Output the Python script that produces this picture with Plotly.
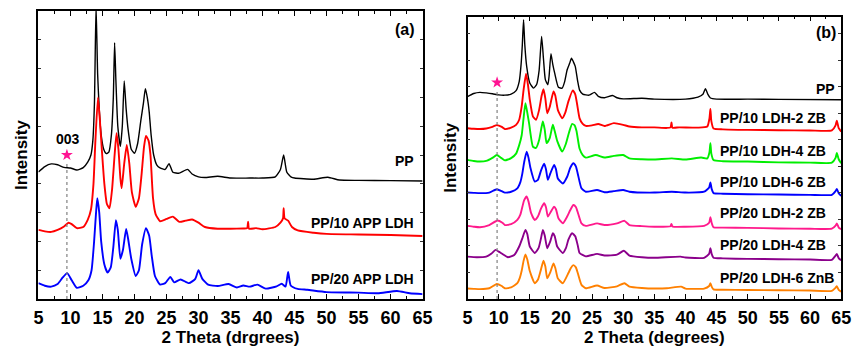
import plotly.graph_objects as go

# ---------------- Panel (a) data: 2-theta (deg), intensity (a.u., offset) ----------------
PP_A = [(5, 44.1), (6, 46), (7, 46.9), (8, 46.6), (9, 45.7), (10, 45.5), (11, 44.8), (12, 45.6),
        (12.7, 47.5), (13.2, 50), (13.5, 55), (13.75, 68), (14.0, 102), (14.25, 78), (14.5, 66),
        (14.8, 57), (15.2, 52), (15.6, 50.5), (16.0, 51), (16.4, 57), (16.7, 70), (16.9, 89),
        (17.1, 76), (17.4, 60), (17.8, 53), (18.1, 60), (18.4, 75.7), (18.7, 66), (19.0, 59),
        (19.5, 52), (20.0, 50.6), (20.5, 54), (21.0, 62), (21.4, 68), (21.7, 73), (22.0, 70),
        (22.3, 65), (22.6, 57), (23.0, 50), (23.5, 46.5), (24.0, 45.5), (24.8, 45), (25.4, 47),
        (26.0, 44), (27.0, 43.7), (28.3, 45), (29.0, 43.4), (30.0, 42.4), (31.0, 42.2),
        (33.0, 42.6), (35.0, 42), (38.0, 42), (40.0, 42), (42.0, 42.4), (42.8, 45), (43.3, 50),
        (43.8, 44), (44.5, 42.3), (45, 42), (48, 41.6), (50.2, 42.3), (52, 41.3), (55, 41.2),
        (60, 41.1), (65, 41)]

PP10_APP_A = [(5, 24), (6, 23.5), (7, 23.3), (8, 24), (9, 25.2), (9.7, 26.5), (10.2, 26), (11, 24.6),
              (12, 25), (12.7, 27.5), (13.2, 31), (13.6, 40), (13.9, 55), (14.3, 70), (14.6, 62),
              (14.9, 52), (15.3, 40), (15.7, 33), (16.1, 31.5), (16.5, 38), (16.9, 50), (17.2, 57.6),
              (17.5, 52), (17.8, 42), (18.0, 38.5), (18.4, 47), (18.8, 53.5), (19.2, 47), (19.6, 37),
              (20.2, 32), (20.7, 35), (21.1, 43), (21.5, 53), (21.8, 56.6), (22.2, 55), (22.5, 50),
              (22.9, 35), (23.3, 29.5), (24, 27), (25, 27.8), (26, 28.6), (27, 26.8), (28, 27.2),
              (29, 27.6), (30, 26.5), (31, 25), (33, 24.4), (35, 24.4), (37, 24.5), (37.6, 24.6),
              (37.75, 26.8), (37.9, 24.4), (39, 24.6), (40, 24.2), (42, 25), (42.8, 26.5), (43.2, 28),
              (43.3, 31.5), (43.45, 28), (44, 27.2), (44.6, 25), (45.5, 23.8), (48, 23), (50, 22.6),
              (55, 22.4), (60, 22.2), (65, 21.9)]

PP20_APP_A = [(5, 5.5), (6, 4.6), (7, 4.3), (8, 5.2), (8.8, 7.5), (9.5, 9), (10.2, 6.5), (11, 3.9),
              (12, 4.6), (12.8, 6.5), (13.3, 10), (13.7, 20), (14.0, 30), (14.2, 35), (14.5, 30),
              (14.8, 20), (15.3, 12), (15.8, 9.2), (16.3, 11), (16.7, 18), (17.1, 27.4), (17.4, 24),
              (17.8, 14), (18.2, 17), (18.7, 24.3), (19.0, 21), (19.5, 14), (20.2, 8), (20.7, 10),
              (21.2, 19), (21.8, 24.6), (22.3, 22), (22.7, 15), (23.2, 8), (24, 5), (24.8, 5.5),
              (25.6, 7.7), (26.2, 5.8), (27.2, 6.8), (28.5, 5.5), (29.5, 7), (30.0, 10), (30.6, 7),
              (31.5, 5), (33, 4.5), (34.7, 5.2), (36, 4), (37, 4.7), (38, 4.3), (39.2, 5), (40.5, 3.6),
              (42.2, 4.4), (43, 5.3), (43.6, 4.3), (44.0, 9.4), (44.4, 4.7), (45.5, 3.5), (47, 3.2),
              (50, 2.4), (55, 2.2), (58, 2), (61, 2.8), (63, 2), (65, 1.7)]

# ---------------- Panel (b) data ----------------
PP_B = [(5, 71.7), (6, 72.8), (7, 73.2), (8, 73), (9, 72.7), (10, 72.3), (11, 72.2), (12, 72.6),
        (12.8, 73.8), (13.3, 77), (13.6, 83), (13.8, 90), (14.0, 98.9), (14.2, 90), (14.5, 82.4),
        (15.0, 76.5), (15.6, 74.7), (16.1, 76), (16.5, 81), (16.9, 93), (17.2, 85), (17.5, 77.7),
        (17.9, 75.9), (18.1, 79), (18.4, 86.9), (18.7, 83), (19.0, 80), (19.6, 75), (20.2, 74.7),
        (20.6, 77), (21.0, 81.2), (21.4, 83.5), (21.7, 85.3), (22.0, 84), (22.3, 82.4), (22.7, 77),
        (23.0, 74), (23.5, 72.6), (24.5, 72.2), (25.4, 73.2), (26, 71.8), (27, 71.3), (28.3, 72.1),
        (29, 71.3), (30, 70.9), (33, 71.1), (35, 70.8), (40, 70.8), (42, 71.5), (42.8, 72.5),
        (43.2, 74.5), (43.6, 72.5), (44, 71.2), (45, 70.8), (50, 70.8), (55, 70.7), (65, 70.6)]

PP10_2ZB = [(5, 60.5), (6, 60.3), (7, 60.2), (8, 60.4), (9, 61), (9.7, 61.6), (10.5, 61), (11, 60.2),
            (12, 60.7), (12.8, 61.7), (13.3, 63.5), (13.7, 68.2), (14.0, 74), (14.4, 79.8), (14.7, 76),
            (15.0, 70.6), (15.5, 64.7), (16.0, 63.5), (16.5, 67), (16.9, 72), (17.2, 74.3), (17.5, 71),
            (17.8, 65.8), (18.2, 68), (18.8, 73.5), (19.1, 72), (19.5, 67), (20.2, 64), (20.7, 66),
            (21.2, 70), (21.9, 73.9), (22.3, 72.5), (22.6, 69), (23.0, 64), (23.5, 62), (24, 61.3),
            (25, 61.5), (26, 62), (27, 61.3), (28.5, 62.3), (30, 61.7), (31, 61.1), (33, 60.8),
            (35, 60.8), (37, 60.6), (37.6, 60.8), (37.75, 62.5), (37.9, 60.7), (39, 60.8), (42, 60.7),
            (43.5, 61.1), (43.85, 64), (44.0, 67.3), (44.15, 63), (44.5, 60.4), (46, 60.1), (50, 59.9),
            (55, 59.8), (60, 59.7), (63.5, 59.7), (64.1, 61.5), (64.3, 63.2), (64.6, 60.5), (65, 59.3)]

PP10_4ZB = [(5, 49.3), (6, 48.9), (7, 48.7), (8, 48.9), (9, 50), (9.7, 51), (10.4, 50), (11, 49.1),
            (12, 49.9), (12.8, 51.5), (13.3, 54.5), (13.7, 58), (14.0, 64), (14.3, 69.4), (14.6, 66),
            (14.9, 62), (15.5, 54), (16.0, 53.5), (16.5, 56.3), (16.9, 61), (17.1, 62.9), (17.4, 60),
            (17.7, 55.2), (18.2, 57), (18.7, 61.7), (19.0, 59.5), (19.4, 56), (20.2, 52.2), (20.8, 55),
            (21.3, 59), (21.8, 62), (22.2, 61.5), (22.5, 59.5), (23.0, 53.2), (23.5, 51), (24, 50.1),
            (25.6, 51), (27, 50.1), (28.5, 50.7), (30, 51), (31, 49.8), (33, 49.5), (35, 49.4),
            (37.8, 49.8), (40, 49.4), (42.5, 50.1), (43.5, 49.8), (43.85, 52), (44.0, 55.2),
            (44.15, 51.5), (44.5, 49.2), (46, 48.8), (50, 48.7), (55, 48.4), (60, 48.3), (63.5, 48.3),
            (64.1, 50), (64.3, 51.7), (64.6, 49.5), (65, 48.1)]

PP10_6ZB = [(5, 37.7), (6, 37.6), (7, 37.5), (8.5, 37.7), (9.7, 38.9), (10.5, 38.2), (11, 37.7), (12, 38),
            (13, 39.2), (13.5, 41.5), (13.8, 44.4), (14.1, 48.5), (14.5, 52.2), (14.8, 50), (15.1, 46.5),
            (15.8, 41.6), (16.3, 42.2), (16.8, 45.5), (17.3, 47.9), (17.6, 46), (17.9, 42.2), (18.3, 44.5),
            (18.9, 47.5), (19.2, 46), (19.5, 42.7), (20.3, 40.9), (21.0, 43.3), (21.5, 46.5), (22.0, 48.1),
            (22.4, 47), (22.7, 44.4), (23.3, 39.2), (24, 38), (25.8, 38.6), (27, 37.8), (28.5, 38.2),
            (30, 38.6), (31, 38), (35, 37.7), (37.8, 38), (40, 37.7), (43, 38), (43.8, 39.5), (44.0, 41.3),
            (44.2, 39), (44.5, 37.5), (46, 37.3), (50, 37.1), (55, 37), (60, 36.9), (63.5, 36.9),
            (64.1, 38.2), (64.3, 39), (64.6, 37.5), (65, 36.5)]

PP20_2ZB = [(5, 25.9), (6, 25.6), (7, 25.4), (8.5, 26.2), (9.8, 27.8), (10.6, 27), (11, 26.2), (12, 26.5),
            (13, 28), (13.5, 30), (13.8, 32.6), (14.1, 35), (14.5, 36.3), (14.8, 34.5), (15.2, 30.5),
            (15.8, 28), (16.3, 29.2), (16.8, 32), (17.3, 33.9), (17.6, 32.5), (17.9, 29.2), (18.4, 31),
            (18.9, 32.7), (19.2, 31.8), (19.6, 28.6), (20.3, 26.8), (21.0, 29.2), (21.5, 31.5), (22.0, 33.3),
            (22.4, 32.6), (22.8, 30), (23.3, 26.8), (24, 25.9), (25.8, 26.8), (27, 26.2), (29, 26.8),
            (30.2, 27.7), (31, 26.2), (33, 25.8), (35, 25.6), (37.6, 25.8), (37.75, 26.6), (37.9, 25.7),
            (40, 25.6), (43, 25.9), (43.8, 27), (44.0, 29), (44.2, 27), (44.5, 25.4), (46, 25.3),
            (50, 25.2), (55, 25), (60, 24.9), (63.5, 24.9), (64.1, 26), (64.3, 26.8), (64.6, 25.3),
            (65, 24.7)]

PP20_4ZB = [(5, 15), (6.5, 14.8), (8, 15), (8.8, 16), (9.5, 17.4), (10, 16.8), (10.5, 16.1), (11.5, 14.8),
            (12.5, 15.6), (13.3, 18.6), (13.8, 21.5), (14.3, 24.5), (14.6, 23), (15.0, 18.6), (15.8, 16.3),
            (16.4, 18), (16.8, 21.5), (17.1, 24.5), (17.4, 22.5), (17.8, 18), (18.3, 20.5), (18.7, 23.3),
            (19.0, 22.3), (19.4, 18.6), (20.3, 16.3), (20.8, 18), (21.2, 21), (21.8, 23.3), (22.3, 22.2),
            (22.7, 19), (23.0, 16.3), (24, 15.1), (25.8, 16), (27, 15.4), (29, 15.7), (30.1, 17.1),
            (31, 15.4), (33, 14.8), (35, 14.6), (39.2, 15), (40, 14.7), (43, 14.6), (43.8, 16), (44.0, 18),
            (44.2, 16), (44.5, 14.6), (46, 14.4), (50, 14.2), (55, 14.1), (60, 14), (63.5, 13.9),
            (64.1, 15.4), (64.3, 16), (64.6, 14.5), (65, 13.7)]

PP20_6ZNB = [(5, 3.7), (6, 3.6), (7, 3.5), (8.5, 3.8), (9.7, 5.3), (10.5, 4.6), (11, 3.8), (12, 4.1),
             (13, 5.6), (13.4, 7.5), (13.7, 10), (14.0, 13.5), (14.3, 15.8), (14.6, 14), (15.0, 9.9),
             (15.8, 5.6), (16.3, 6.8), (16.8, 10.5), (17.2, 13.6), (17.5, 11.5), (17.8, 7.3), (18.3, 9.5),
             (18.8, 12.6), (19.1, 11), (19.5, 7.3), (20.3, 5.6), (21.2, 9.2), (21.6, 11), (22.0, 12),
             (22.4, 11.2), (22.7, 9.2), (23.3, 5), (24, 3.8), (25.8, 4.8), (27, 3.9), (29, 4.5),
             (30.2, 5.6), (31, 4.4), (33, 3.9), (35, 3.7), (37, 3.8), (39.3, 4.4), (40, 3.7), (43, 3.7),
             (43.8, 4.6), (44.0, 5.6), (44.2, 4.4), (44.5, 3.4), (46, 3.3), (50, 3.2), (55, 3.1),
             (60, 3), (63.5, 2.9), (64.1, 4), (64.3, 4.5), (64.6, 3.2), (65, 2.6)]

# series metadata: (data, name, colour, label y)
SERIES_A = [
    (PP_A, "PP", "#000000", 48),
    (PP10_APP_A, "PP/10 APP LDH", "#ff0000", 26.5),
    (PP20_APP_A, "PP/20 APP LDH", "#0000ff", 7),
]
SERIES_B = [
    (PP_B, "PP", "#000000", 74.5),
    (PP10_2ZB, "PP/10 LDH-2 ZB", "#ff0000", 64),
    (PP10_4ZB, "PP/10 LDH-4 ZB", "#00ee00", 52.5),
    (PP10_6ZB, "PP/10 LDH-6 ZB", "#0000ff", 41.5),
    (PP20_2ZB, "PP/20 LDH-2 ZB", "#ff1a8c", 30.5),
    (PP20_4ZB, "PP/20 LDH-4 ZB", "#8b008b", 19.2),
    (PP20_6ZNB, "PP/20 LDH-6 ZnB", "#ff8000", 7.5),
]

STAR_A = (9.45, 50.0)      # 003 reflection marker, panel (a)
STAR_B = (9.75, 76.7)      # panel (b)
X_TICKS = [5, 10, 15, 20, 25, 30, 35, 40, 45, 50, 55, 60, 65]

FONT = "Liberation Sans, Arial, sans-serif"

fig = go.Figure()

def add_panel(series, xa, ya, star, label_x_pp, label_x_other, align_other):
    for data, name, color, ly in series:
        xs = [p[0] for p in data]
        ys = [p[1] for p in data]
        w = 1.4 if name == "PP" else 1.9
        fig.add_trace(go.Scatter(x=xs, y=ys, mode="lines", name=name,
                                 line=dict(color=color, width=w, shape="spline", smoothing=0.5),
                                 xaxis=xa, yaxis=ya, showlegend=False, hoverinfo="skip"))
        fig.add_annotation(x=label_x_pp if name == "PP" else label_x_other, y=ly, xref=xa, yref=ya,
                           text=name, showarrow=False,
                           xanchor="right" if name == "PP" else align_other, yanchor="middle",
                           font=dict(family=FONT, size=14, color="black", weight="bold"))
    # dotted line at the 003 reflection
    fig.add_shape(type="line", x0=star[0], x1=star[0], y0=0, y1=star[1] - 2.5,
                  xref=xa, yref=ya, line=dict(color="#808080", width=1.2, dash="dot"))
    fig.add_trace(go.Scatter(x=[star[0]], y=[star[1]], mode="markers",
                             marker=dict(symbol="star", size=9, color="#ff1493", line=dict(width=0)),
                             xaxis=xa, yaxis=ya, showlegend=False, hoverinfo="skip"))

add_panel(SERIES_A, "x", "y", STAR_A, 63.9, 63.9, "right")
add_panel(SERIES_B, "x2", "y2", STAR_B, 64.4, 45.3, "left")

fig.add_annotation(x=STAR_A[0] + 0.1, y=STAR_A[1] + 5.5, xref="x", yref="y", text="003", showarrow=False,
                   font=dict(family=FONT, size=14, color="black", weight="bold"))
fig.add_annotation(x=64.2, y=93.5, xref="x", yref="y", text="(a)", showarrow=False, xanchor="right",
                   font=dict(family=FONT, size=16, color="black", weight="bold"))
fig.add_annotation(x=64.5, y=94.5, xref="x2", yref="y2", text="(b)", showarrow=False, xanchor="right",
                   font=dict(family=FONT, size=16, color="black", weight="bold"))

tickfont = dict(family=FONT, size=18, color="black", weight="bold")
titlefont = dict(family=FONT, size=17, color="black", weight="bold")

def xaxis(domain, title, anchor):
    return dict(domain=domain, anchor=anchor, range=[5, 65], tickmode="array", tickvals=X_TICKS,
                ticktext=[str(v) for v in X_TICKS], ticks="inside", ticklen=5, tickwidth=1.2,
                tickcolor="black", minor=dict(dtick=2.5, tick0=5, ticks="inside", ticklen=3,
                                              tickcolor="black", tickwidth=1),
                showline=True, linecolor="black", linewidth=1.5, mirror="ticks",
                showgrid=False, zeroline=False, tickfont=tickfont, ticklabelstandoff=2,
                title=dict(text=title, font=titlefont, standoff=4))

def yaxis(domain, anchor, dtick):
    return dict(domain=domain, anchor=anchor, range=[0, 100], dtick=dtick, tick0=0,
                ticks="inside", ticklen=3, tickwidth=1, tickcolor="#333333",
                showticklabels=False, showline=True, linecolor="black", linewidth=1.5,
                mirror="ticks", showgrid=False, zeroline=False,
                title=dict(text="Intensity", font=titlefont, standoff=5))

fig.update_layout(
    width=861, height=347,
    margin=dict(l=0, r=0, t=0, b=0),
    paper_bgcolor="white", plot_bgcolor="white",
    xaxis=xaxis([0.0395, 0.4936], "2 Theta (drgrees)", "y"),
    yaxis=yaxis([0.1383, 0.9683], "x", 10),
    xaxis2=xaxis([0.5467, 0.9884], "2 Theta (degrees)", "y2"),
    yaxis2=yaxis([0.1383, 0.9519], "x2", 9.4),
)

fig.write_html("out.html")
